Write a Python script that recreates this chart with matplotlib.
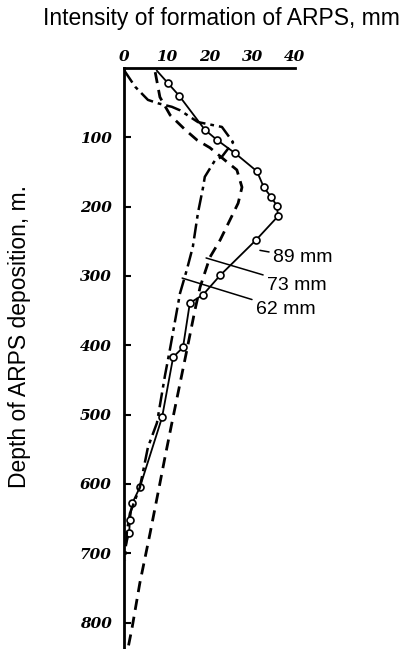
import matplotlib.pyplot as plt

# depth profiles of ARPS formation intensity for three tubing sizes
depth_89 = [4, 22, 40, 89, 104, 123, 149, 172, 186, 199, 214, 248, 299, 327, 339, 403, 417, 504, 605, 628, 652, 670, 688]
inten_89 = [7.7, 10.3, 12.9, 18.9, 21.8, 26.0, 31.1, 32.7, 34.4, 35.8, 36.0, 30.9, 22.5, 18.5, 15.4, 13.8, 11.5, 8.9, 3.7, 1.9, 1.4, 1.2, 0.5]
marked_89 = list(range(1, 22))

depth_73 = [6, 42, 68, 89, 104, 115, 133, 147, 172, 195, 219, 248, 273, 316, 349, 407, 455, 512, 561, 599, 671, 743, 807, 838]
inten_73 = [7.3, 8.4, 10.8, 14.3, 17.1, 20.1, 23.6, 26.4, 27.6, 26.7, 24.8, 22.5, 20.1, 17.8, 16.6, 14.7, 13.1, 11.2, 9.6, 8.4, 6.1, 3.7, 1.9, 0.9]

depth_62 = [3, 27, 46, 51, 56, 61, 78, 85, 107, 128, 133, 157, 172, 209, 258, 291, 325, 404, 443, 512, 547, 605, 642, 667, 710]
inten_62 = [0, 2.6, 5.6, 8.0, 11.2, 13.1, 17.3, 22.9, 25.5, 22.9, 21.3, 18.9, 18.5, 17.3, 16.1, 14.7, 13.1, 10.8, 9.6, 7.7, 5.6, 3.7, 1.4, 0.7, 0.2]

x_ticks = [0, 10, 20, 30, 40]
y_ticks = [100, 200, 300, 400, 500, 600, 700, 800]

fig = plt.figure(figsize=(4.10, 6.49), dpi=100)
ax = fig.add_axes([124 / 410, 0, 171 / 410, 1 - 68 / 649])

ax.plot(inten_89, depth_89, color='black', lw=1.3, marker='o', markersize=5,
        markerfacecolor='white', markeredgewidth=1.2, markevery=marked_89)
ax.plot(inten_73, depth_73, color='black', lw=2.0, linestyle=(0, (4, 2.5)))
ax.plot(inten_62, depth_62, color='black', lw=1.8, linestyle=(0, (6, 2, 1.5, 2)))

ax.set_xlim(0, 40)
ax.set_ylim(838, 0)

for side in ['right', 'bottom']:
    ax.spines[side].set_visible(False)
for side in ['left', 'top']:
    ax.spines[side].set_linewidth(2)
ax.spines['top'].set_bounds(0, 40)

tick_font = dict(family='DejaVu Serif', weight='bold', style='italic', size=11)
ax.xaxis.tick_top()
ax.set_xticks(x_ticks)
ax.set_xticklabels([str(v) for v in x_ticks], fontdict=tick_font)
ax.set_xticks([40], minor=True)
ax.tick_params(axis='x', which='major', length=0, pad=3)
ax.tick_params(axis='x', which='minor', length=8, width=2, direction='in')

ax.set_yticks(y_ticks)
ax.set_yticklabels([str(v) for v in y_ticks], fontdict=tick_font)
ax.tick_params(axis='y', length=5, width=1.5, direction='in', pad=9)

label_font = dict(family='Liberation Sans', size=14)
leader = dict(arrowstyle='-', lw=1.1, color='black', shrinkA=1, shrinkB=0)
ax.annotate('89 mm', xy=(31.8, 263), xytext=(34.9, 274), ha='left', va='center',
            arrowprops=leader, **label_font)
ax.annotate('73 mm', xy=(19.2, 274), xytext=(33.5, 313), ha='left', va='center',
            arrowprops=leader, **label_font)
ax.annotate('62 mm', xy=(13.6, 303), xytext=(30.9, 349), ha='left', va='center',
            arrowprops=leader, **label_font)

fig.text(221 / 410, 1 - 19 / 649, 'Intensity of formation of ARPS, mm', ha='center', va='center',
         family='Liberation Sans', size=16.5)
fig.text(20 / 410, 1 - 337 / 649, 'Depth of ARPS deposition, m.', ha='center', va='center',
         rotation=90, family='Liberation Sans', size=16.5)

fig.savefig('out.png', dpi=100)
